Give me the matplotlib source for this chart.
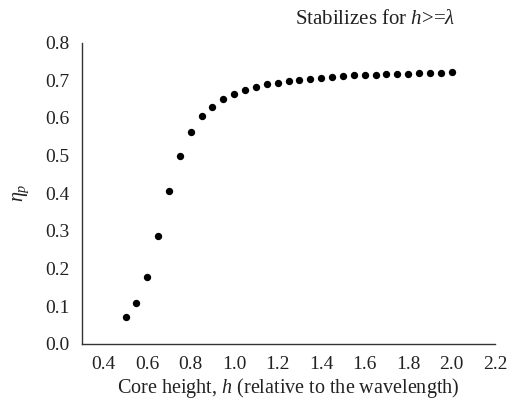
import matplotlib
matplotlib.use("Agg")
import matplotlib.pyplot as plt

h = [0.50, 0.55, 0.60, 0.65, 0.70, 0.75, 0.80, 0.85, 0.90, 0.95, 1.00,
     1.05, 1.10, 1.15, 1.20, 1.25, 1.30, 1.35, 1.40, 1.45, 1.50,
     1.55, 1.60, 1.65, 1.70, 1.75, 1.80, 1.85, 1.90, 1.95, 2.00]
eta = [0.070, 0.108, 0.177, 0.285, 0.405, 0.500, 0.562, 0.604, 0.630, 0.649, 0.664,
       0.674, 0.682, 0.689, 0.693, 0.698, 0.701, 0.704, 0.707, 0.709, 0.711,
       0.713, 0.714, 0.715, 0.716, 0.716, 0.717, 0.718, 0.719, 0.720, 0.721]
xticks = [0.4, 0.6, 0.8, 1.0, 1.2, 1.4, 1.6, 1.8, 2.0, 2.2]
yticks = [0.0, 0.1, 0.2, 0.3, 0.4, 0.5, 0.6, 0.7, 0.8]

plt.rcParams['font.family'] = ['Liberation Serif', 'DejaVu Serif']
plt.rcParams['mathtext.fontset'] = 'custom'
plt.rcParams['mathtext.rm'] = 'Liberation Serif'
plt.rcParams['mathtext.it'] = 'Liberation Serif:italic'

fig = plt.figure(figsize=(5.13, 4.05), dpi=100)
ax = fig.add_axes([0.160, 0.151, 0.805, 0.744])
ax.scatter(h, eta, s=28, color='black', zorder=3, linewidths=0)

ax.set_xlim(0.3, 2.2)
ax.set_ylim(0.0, 0.8)
ax.set_xticks(xticks)
ax.set_xticklabels([f"{v:.1f}" for v in xticks])
ax.set_yticks(yticks)
ax.set_yticklabels([f"{v:.1f}" for v in yticks])
ax.tick_params(length=0, labelsize=14, colors='#222222')
ax.tick_params(axis='x', pad=9)
ax.tick_params(axis='y', pad=9)
for s in ['top', 'right']:
    ax.spines[s].set_visible(False)
for s in ['left', 'bottom']:
    ax.spines[s].set_color('#333333')
    ax.spines[s].set_linewidth(1.0)

ax.set_xlabel(r"Core height, $h$ (relative to the wavelength)", fontsize=14.5, color='#222222', labelpad=2)
ax.set_ylabel(r"$\eta_p$", fontsize=14.5, color='#222222', labelpad=10)
fig.text(0.731, 0.953, r"Stabilizes for $h$>=$\lambda$", fontsize=15, ha='center', va='center', color='#222222')

fig.savefig("out.png", dpi=100)
